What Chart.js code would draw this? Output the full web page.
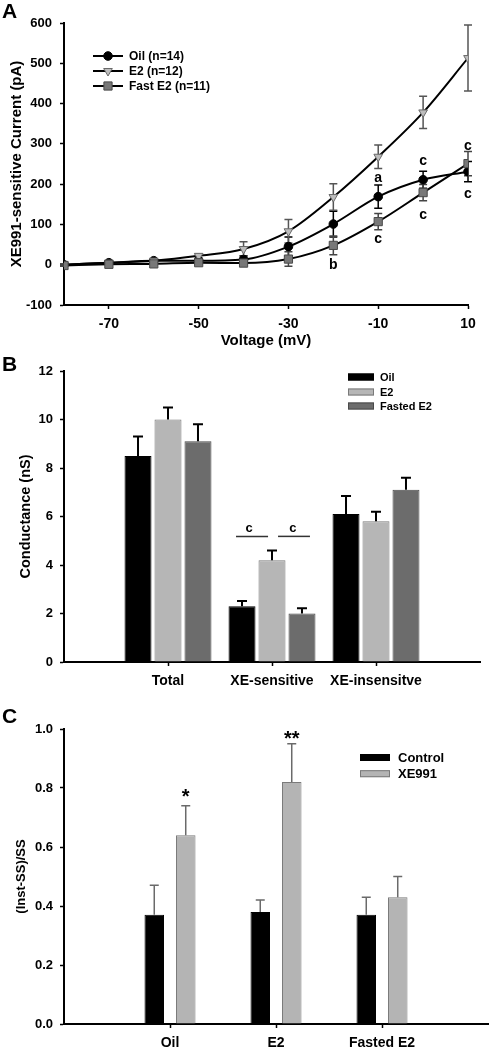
<!DOCTYPE html>
<html><head><meta charset="utf-8">
<script src="https://cdn.jsdelivr.net/npm/chart.js@4.4.1/dist/chart.umd.min.js"></script>
<style>
html,body{margin:0;padding:0;background:#fff;width:489px;height:1050px;overflow:hidden;position:relative;font-family:"Liberation Sans",Arial,Helvetica,sans-serif}
canvas{position:absolute;left:0}
.lbl{position:absolute;left:2px;font-weight:bold;font-size:21px;line-height:1;color:#000;font-family:"Liberation Sans",Arial,sans-serif}
</style></head><body>
<canvas id="cA" width="489" height="350" style="top:0"></canvas>
<canvas id="cB" width="489" height="345" style="top:350px"></canvas>
<canvas id="cC" width="489" height="350" style="top:700px"></canvas>
<div class="lbl" style="top:0">A</div>
<div class="lbl" style="top:353px">B</div>
<div class="lbl" style="top:705px">C</div>
<script>
// ---------- Panel A data ----------
const voltages = [-80, -70, -60, -50, -40, -30, -20, -10, 0, 10];
const xTickValuesA = [-70, -50, -30, -10, 10];
const seriesNamesA = ['Oil (n=14)', 'E2 (n=12)', 'Fast E2 (n=11)'];
const oilCurrent = [0, 5, 10, 10, 13, 45, 101, 169, 211, 231];
const oilErr = [2, 3, 3, 4, 9, 24, 32, 29, 21, 25];
const e2Current = [0, 5, 10, 22, 39, 83, 168, 268, 378, 513];
const e2Err = [2, 3, 3, 5, 18, 29, 33, 29, 40, 82];
const fastCurrent = [-2, 1, 2, 5, 4, 14, 48, 107, 179, 251];
const fastErr = [2, 2, 2, 3, 5, 18, 23, 20, 20, 30];
const lettersA = [
  {x: -10, y: 215, text: 'a'}, {x: -20, y: -2, text: 'b'}, {x: -10, y: 64, text: 'c'},
  {x: 0, y: 258, text: 'c'}, {x: 0, y: 124, text: 'c'}, {x: 10, y: 294, text: 'c'}, {x: 10, y: 174, text: 'c'}
];

// ---------- Panel B data ----------
const bCategories = ['Total', 'XE-sensitive', 'XE-insensitve'];
const bSeriesNames = ['Oil', 'E2', 'Fasted E2'];
const bOil = [8.5, 2.3, 6.1];
const bOilErr = [0.8, 0.22, 0.75];
const bE2 = [10.0, 4.2, 5.8];
const bE2Err = [0.5, 0.4, 0.4];
const bFast = [9.1, 2.0, 7.1];
const bFastErr = [0.7, 0.22, 0.5];
const sigLinesB = [{x0: 1.654, x1: 1.962, y: 5.18, text: 'c', tx: 1.78}, {x0: 2.058, x1: 2.365, y: 5.18, text: 'c', tx: 2.2}];

// ---------- Panel C data ----------
const cCategories = ['Oil', 'E2', 'Fasted E2'];
const cSeriesNames = ['Control', 'XE991'];
const cControl = [0.37, 0.38, 0.37];
const cControlErr = [0.10, 0.04, 0.06];
const cXE = [0.64, 0.82, 0.43];
const cXEErr = [0.10, 0.13, 0.07];
const starsC = [{dataset: 1, index: 0, y: 0.787, text: '*'}, {dataset: 1, index: 1, y: 0.984, text: '**'}];

// ---------- helpers ----------
const FF = '"Liberation Sans", Arial, Helvetica, sans-serif';
Chart.defaults.font.family = FF;
Chart.defaults.color = '#000';
const bf = s => ({family: FF, size: s, weight: 'bold'});
const toXY = (xs, ys) => ys.map((v, i) => ({x: xs[i], y: v}));
const catPos = cats => cats.map((c, i) => i + 1);

function gridOpts() {
  return {drawOnChartArea: false, drawTicks: true, tickLength: 4, tickColor: '#000', tickWidth: 1.5, offset: false};
}
function borderOpts() { return {display: true, color: '#000', width: 2}; }

const errorBarPlugin = {
  id: 'errorBars',
  beforeDatasetsDraw(chart) { if (chart.config.type === 'line') drawErrors(chart, true); },
  afterDatasetsDraw(chart) { if (chart.config.type === 'bar') drawErrors(chart, false); }
};
function drawErrors(chart, both) {
  const ctx = chart.ctx, ys = chart.scales.y;
  chart.data.datasets.forEach((ds, di) => {
    if (!ds.errorBars) return;
    const meta = chart.getDatasetMeta(di);
    ctx.save();
    ctx.strokeStyle = ds.errColor; ctx.lineWidth = ds.errWidth;
    meta.data.forEach((el, i) => {
      const v = meta.controller.getParsed(i).y, e = ds.errorBars[i];
      const x = el.x, yt = ys.getPixelForValue(v + e);
      const yb = both ? ys.getPixelForValue(v - e) : el.y;
      const h = ds.capHalf;
      ctx.beginPath();
      ctx.moveTo(x, yb); ctx.lineTo(x, yt);
      ctx.moveTo(x - h, yt); ctx.lineTo(x + h, yt);
      if (both) { ctx.moveTo(x - h, yb); ctx.lineTo(x + h, yb); }
      ctx.stroke();
    });
    ctx.restore();
  });
}

function drawMarker(ctx, style, r, rot, x, y) {
  if (Chart.helpers && Chart.helpers.drawPoint) {
    Chart.helpers.drawPoint(ctx, {pointStyle: style, radius: r, rotation: rot, borderWidth: 1}, x, y);
  } else {
    ctx.beginPath(); ctx.arc(x, y, r, 0, Math.PI * 2); ctx.fill(); ctx.stroke();
  }
}

// ---------- Panel A ----------
const styleA = [
  {pointStyle: 'circle', pointRadius: 4.3, rot: 0, fill: '#000', stroke: '#000', err: '#000'},
  {pointStyle: 'triangle', pointRadius: 5, rot: 180, fill: '#bdbdbd', stroke: '#6a6a6a', err: '#555'},
  {pointStyle: 'rect', pointRadius: 5.8, rot: 0, fill: '#787878', stroke: '#4a4a4a', err: '#444'}
];
const valuesA = [oilCurrent, e2Current, fastCurrent];
const errsA = [oilErr, e2Err, fastErr];

const legendA = {
  id: 'legendA',
  afterDraw(chart) {
    const ctx = chart.ctx; const rows = [56, 71, 86];
    ctx.save();
    seriesNamesA.forEach((name, i) => {
      const s = styleA[i], y = rows[i];
      ctx.strokeStyle = '#000'; ctx.lineWidth = 2;
      ctx.beginPath(); ctx.moveTo(93, y); ctx.lineTo(123, y); ctx.stroke();
      ctx.fillStyle = s.fill; ctx.strokeStyle = s.stroke; ctx.lineWidth = 1;
      drawMarker(ctx, s.pointStyle, s.pointRadius, s.rot, 108, y);
      ctx.fillStyle = '#000'; ctx.font = 'bold 12px ' + FF; ctx.textAlign = 'left'; ctx.textBaseline = 'middle';
      ctx.fillText(name, 129, y + 0.5);
    });
    ctx.restore();
  }
};
const lettersPluginA = {
  id: 'lettersA',
  afterDatasetsDraw(chart) {
    const ctx = chart.ctx, xs = chart.scales.x, ys = chart.scales.y;
    ctx.save(); ctx.fillStyle = '#000'; ctx.font = 'bold 14px ' + FF; ctx.textAlign = 'center'; ctx.textBaseline = 'middle';
    lettersA.forEach(t => ctx.fillText(t.text, xs.getPixelForValue(t.x), ys.getPixelForValue(t.y)));
    ctx.restore();
  }
};

new Chart(document.getElementById('cA'), {
  type: 'line',
  data: {
    datasets: seriesNamesA.map((name, i) => ({
      label: name,
      data: toXY(voltages, valuesA[i]),
      errorBars: errsA[i], errColor: styleA[i].err, errWidth: 1.5, capHalf: 4,
      borderColor: '#000', borderWidth: 2, cubicInterpolationMode: 'monotone',
      pointStyle: styleA[i].pointStyle, pointRadius: styleA[i].pointRadius, pointRotation: styleA[i].rot,
      pointBackgroundColor: styleA[i].fill, pointBorderColor: styleA[i].stroke, pointBorderWidth: 1,
      order: 2 - i
    }))
  },
  options: {
    responsive: false, animation: false, devicePixelRatio: 1,
    layout: {padding: {top: 23, right: 21, left: 0, bottom: 0}},
    plugins: {legend: {display: false}, tooltip: {enabled: false}},
    scales: {
      x: {
        type: 'linear', min: -80, max: 10,
        afterBuildTicks: s => { s.ticks = xTickValuesA.map(v => ({value: v})); },
        afterFit: s => { s.height = 45; },
        grid: gridOpts(), border: borderOpts(),
        ticks: {color: '#000', font: bf(14), padding: 7, maxRotation: 0, autoSkip: false},
        title: {display: true, text: 'Voltage (mV)', color: '#000', font: bf(15), padding: {top: 0, bottom: 0}}
      },
      y: {
        min: -100, max: 600,
        afterFit: s => { s.width = 64; },
        grid: gridOpts(), border: borderOpts(),
        ticks: {stepSize: 100, color: '#000', font: bf(13), padding: 8},
        title: {display: true, text: 'XE991-sensitive Current (pA)', color: '#000', font: bf(15), padding: {top: 8, bottom: 0}}
      }
    }
  },
  plugins: [errorBarPlugin, legendA, lettersPluginA]
});

// ---------- box legend ----------
function boxLegend(id, names, fills, strokes, cfg) {
  return {
    id,
    afterDraw(chart) {
      const ctx = chart.ctx;
      ctx.save();
      names.forEach((n, i) => {
        const y = cfg.rows[i];
        ctx.fillStyle = fills[i]; ctx.strokeStyle = strokes[i]; ctx.lineWidth = 1;
        ctx.fillRect(cfg.x, y - cfg.h / 2, cfg.w, cfg.h);
        ctx.strokeRect(cfg.x + 0.5, y - cfg.h / 2 + 0.5, cfg.w - 1, cfg.h - 1);
        ctx.fillStyle = '#000'; ctx.font = 'bold ' + cfg.size + 'px ' + FF; ctx.textAlign = 'left'; ctx.textBaseline = 'middle';
        ctx.fillText(n, cfg.tx, y + 0.5);
      });
      ctx.restore();
    }
  };
}

// ---------- Panel B ----------
const fillsB = ['#000000', '#b6b6b6', '#6c6c6c'];
const strokesB = ['#000000', '#7a7a7a', '#4a4a4a'];
const valuesB = [bOil, bE2, bFast];
const errsB = [bOilErr, bE2Err, bFastErr];
const sigPluginB = {
  id: 'sigB',
  afterDatasetsDraw(chart) {
    const ctx = chart.ctx, xs = chart.scales.x, ys = chart.scales.y;
    ctx.save();
    sigLinesB.forEach(l => {
      const y = ys.getPixelForValue(l.y);
      ctx.strokeStyle = '#333'; ctx.lineWidth = 1.5;
      ctx.beginPath(); ctx.moveTo(xs.getPixelForValue(l.x0), y); ctx.lineTo(xs.getPixelForValue(l.x1), y); ctx.stroke();
      ctx.fillStyle = '#000'; ctx.font = 'bold 13px ' + FF; ctx.textAlign = 'center'; ctx.textBaseline = 'alphabetic';
      ctx.fillText(l.text, xs.getPixelForValue(l.tx), y - 4);
    });
    ctx.restore();
  }
};
new Chart(document.getElementById('cB'), {
  type: 'bar',
  data: {
    datasets: bSeriesNames.map((name, i) => ({
      label: name,
      data: toXY(catPos(bCategories), valuesB[i]),
      backgroundColor: fillsB[i], borderColor: strokesB[i], borderWidth: 1,
      errorBars: errsB[i], errColor: '#000', errWidth: 2, capHalf: 5,
      barPercentage: 0.9, categoryPercentage: 0.865
    }))
  },
  options: {
    responsive: false, animation: false, devicePixelRatio: 1,
    layout: {padding: {top: 21, right: 9, left: 0, bottom: 0}},
    plugins: {legend: {display: false}, tooltip: {enabled: false}},
    scales: {
      x: {
        type: 'linear', min: 0, max: bCategories.length + 1, offset: false,
        afterBuildTicks: s => { s.ticks = catPos(bCategories).map(v => ({value: v})); },
        afterFit: s => { s.height = 33; },
        grid: gridOpts(), border: borderOpts(),
        ticks: {color: '#000', font: bf(14), padding: 7, maxRotation: 0, autoSkip: false,
          callback: v => bCategories[Math.round(v) - 1]}
      },
      y: {
        min: 0, max: 12,
        afterFit: s => { s.width = 64; },
        grid: gridOpts(), border: borderOpts(),
        ticks: {stepSize: 2, color: '#000', font: bf(13), padding: 7},
        title: {display: true, text: 'Conductance (nS)', color: '#000', font: bf(14.5), padding: {top: 17, bottom: 0}}
      }
    }
  },
  plugins: [errorBarPlugin, sigPluginB,
    boxLegend('legendB', bSeriesNames, fillsB, strokesB, {x: 348, w: 26, h: 7, rows: [27, 42, 56], tx: 380, size: 11})]
});

// ---------- Panel C ----------
const fillsC = ['#000000', '#b4b4b4'];
const strokesC = ['#000000', '#7a7a7a'];
const valuesC = [cControl, cXE];
const errsC = [cControlErr, cXEErr];
const starPluginC = {
  id: 'starsC',
  afterDatasetsDraw(chart) {
    const ctx = chart.ctx, ys = chart.scales.y;
    ctx.save(); ctx.fillStyle = '#000'; ctx.font = 'bold 20px ' + FF; ctx.textAlign = 'center'; ctx.textBaseline = 'alphabetic';
    starsC.forEach(s => {
      const el = chart.getDatasetMeta(s.dataset).data[s.index];
      ctx.fillText(s.text, el.x, ys.getPixelForValue(s.y) + 11.5);
    });
    ctx.restore();
  }
};
new Chart(document.getElementById('cC'), {
  type: 'bar',
  data: {
    datasets: cSeriesNames.map((name, i) => ({
      label: name,
      data: toXY(catPos(cCategories), valuesC[i]),
      backgroundColor: fillsC[i], borderColor: strokesC[i], borderWidth: 1,
      errorBars: errsC[i], errColor: '#6a6a6a', errWidth: 1.5, capHalf: 4.5,
      barPercentage: 0.62, categoryPercentage: 0.594
    }))
  },
  options: {
    responsive: false, animation: false, devicePixelRatio: 1,
    layout: {padding: {top: 29, right: 1, left: 0, bottom: 0}},
    plugins: {legend: {display: false}, tooltip: {enabled: false}},
    scales: {
      x: {
        type: 'linear', min: 0, max: cCategories.length + 1, offset: false,
        afterBuildTicks: s => { s.ticks = catPos(cCategories).map(v => ({value: v})); },
        afterFit: s => { s.height = 26; },
        grid: gridOpts(), border: borderOpts(),
        ticks: {color: '#000', font: bf(14), padding: 7, maxRotation: 0, autoSkip: false,
          callback: v => cCategories[Math.round(v) - 1]}
      },
      y: {
        min: 0, max: 1,
        afterFit: s => { s.width = 64; },
        grid: gridOpts(), border: borderOpts(),
        ticks: {stepSize: 0.2, color: '#000', font: bf(13), padding: 7, callback: v => v.toFixed(1)},
        title: {display: true, text: '(Inst-SS)/SS', color: '#000', font: bf(13), padding: {top: 14, bottom: 0}}
      }
    }
  },
  plugins: [errorBarPlugin, starPluginC,
    boxLegend('legendC', cSeriesNames, fillsC, strokesC, {x: 360, w: 30, h: 7, rows: [57.5, 73.7], tx: 398, size: 13})]
});
</script>
</body></html>
